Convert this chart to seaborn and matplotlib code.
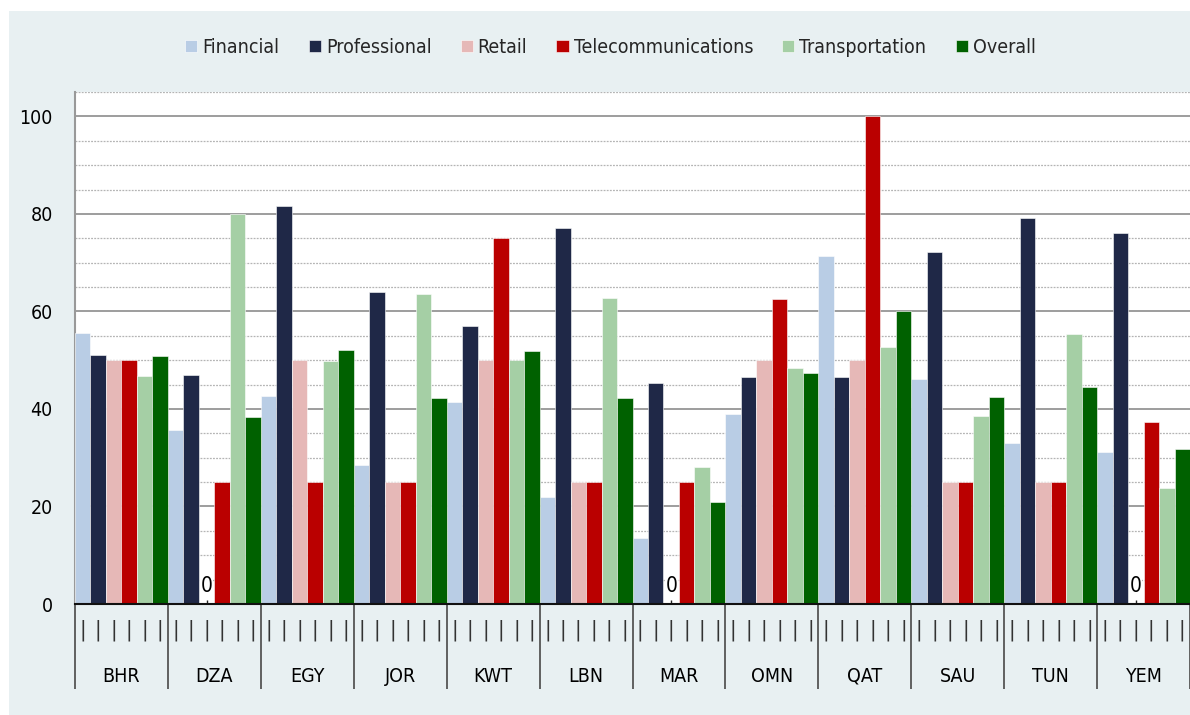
import numpy as np
import pandas as pd
import matplotlib
matplotlib.use('Agg')
import matplotlib.pyplot as plt
import matplotlib.patches as mpatches
from matplotlib import font_manager
import seaborn as sns

#----------------data------------------------------------
countries = ['BHR', 'DZA', 'EGY', 'JOR', 'KWT', 'LBN', 'MAR', 'OMN', 'QAT', 'SAU', 'TUN', 'YEM']
sectors = ['Financial', 'Professional', 'Retail', 'Telecommunications', 'Transportation', 'Overall']

financial      = [55.6, 35.7, 42.7, 28.5, 41.5, 22.0, 13.5, 38.9, 71.4, 46.1, 33.1, 31.1]
professional   = [51.0, 47.0, 81.7, 64.0, 57.0, 77.1, 45.4, 46.5, 46.5, 72.1, 79.1, 76.0]
retail         = [50.0, 0.0, 50.0, 25.0, 50.0, 25.0, 0.0, 50.0, 50.0, 25.0, 25.0, 0.0]
telecom        = [50.0, 25.0, 25.0, 25.0, 75.0, 25.0, 25.0, 62.6, 100.0, 25.0, 25.0, 37.4]
transportation = [46.8, 80.0, 49.8, 63.5, 50.0, 62.8, 28.0, 48.5, 52.8, 38.6, 55.4, 23.8]
overall        = [50.8, 38.4, 52.1, 42.2, 51.8, 42.2, 20.9, 47.4, 60.0, 42.5, 44.5, 31.8]

colors = ['#B9CDE5', '#1F2847', '#E6B8B7', '#BA0000', '#A5CFA5', '#006100']

df = pd.DataFrame({
    'Country': countries * 6,
    'Sector': np.repeat(sectors, len(countries)),
    'Value': financial + professional + retail + telecom + transportation + overall,
})

#----------------plot-----------------
sns.set_style('white')
names = {f.name for f in font_manager.fontManager.ttflist}
condensed = [f for f in font_manager.fontManager.ttflist
             if f.name == 'DejaVu Sans' and 'ondensed' in str(f.stretch) + f.fname]
if 'Liberation Sans Narrow' in names:
    plt.rcParams['font.family'] = ['Liberation Sans Narrow', 'DejaVu Sans']
else:
    plt.rcParams['font.family'] = ['DejaVu Sans']
    if condensed:
        plt.rcParams['font.stretch'] = 'condensed'

fs = 14

fig = plt.figure(figsize=(11.9, 7.15), dpi=100)
fig.patch.set_facecolor('white')
# grey panel behind everything (white strip left and top)
fig.patches.append(mpatches.Rectangle((9 / 1190, 0), 1, 704 / 715, transform=fig.transFigure,
                                      facecolor='#E8F0F2', edgecolor='none', zorder=-10))

ax = fig.add_axes([75 / 1190, 111 / 715, 1 - 75 / 1190, 512 / 715])
ax.set_facecolor('white')

sns.barplot(data=df, x='Country', y='Value', hue='Sector', order=countries, hue_order=sectors,
            palette=colors, saturation=1, width=1.0, edgecolor='white', linewidth=0.4,
            errorbar=None, ax=ax, zorder=3)

# zero labels
for c, vals in zip(ax.containers, [financial, professional, retail, telecom, transportation, overall]):
    labs = ['0' if v == 0 else '' for v in vals]
    ax.bar_label(c, labels=labs, padding=6, fontsize=fs + 1, color='black',
                 bbox=dict(facecolor='white', edgecolor='none', pad=0.5), zorder=4)

ax.set_ylim(0, 105)
ax.set_xlim(-0.5, len(countries) - 0.5)
ax.set_yticks(range(0, 101, 20))
ax.set_yticks(range(0, 106, 5), minor=True)
ax.grid(axis='y', which='major', color='#8C8C8C', linewidth=1.2, linestyle='-', zorder=0)
ax.grid(axis='y', which='minor', color='#B4B4B4', linewidth=0.9, linestyle=(0, (1.5, 1)), zorder=0)
ax.set_axisbelow(True)
ax.tick_params(axis='y', which='both', length=0, labelsize=fs, pad=16, colors='black')

# bar-centre ticks with "|" labels, group separators as long minor ticks
centres = sorted(b.get_x() + b.get_width() / 2 for c in ax.containers for b in c)
ax.set_xticks(centres, labels=['|'] * len(centres))
ax.set_xticks(np.arange(-0.5, len(countries), 1.0), minor=True)
ax.tick_params(axis='x', which='major', bottom=True, direction='in', length=3, width=1,
               color='#222222', labelsize=16, labelcolor='#333333', pad=11)
ax.tick_params(axis='x', which='minor', bottom=True, direction='out', length=61, width=1.3,
               color='#555555')

for i, name in enumerate(countries):
    ax.text(i, -0.141, name, transform=ax.get_xaxis_transform(), ha='center', va='center',
            fontsize=fs, color='black')

ax.set_xlabel('')
ax.set_ylabel('')
for s in ['top', 'right']:
    ax.spines[s].set_visible(False)
ax.spines['left'].set_color('#999999')
ax.spines['left'].set_linewidth(1.5)
ax.spines['bottom'].set_color('#111111')
ax.spines['bottom'].set_linewidth(1.5)
ax.spines['bottom'].set_zorder(5)

ax.legend(loc='center', bbox_to_anchor=(0.513, 0.934), bbox_transform=fig.transFigure, ncol=6,
          frameon=False, fontsize=fs, handlelength=0.62, handleheight=0.62, handletextpad=0.26,
          columnspacing=1.5, title=None)

plt.savefig('out.png', dpi=100, facecolor=fig.get_facecolor())
